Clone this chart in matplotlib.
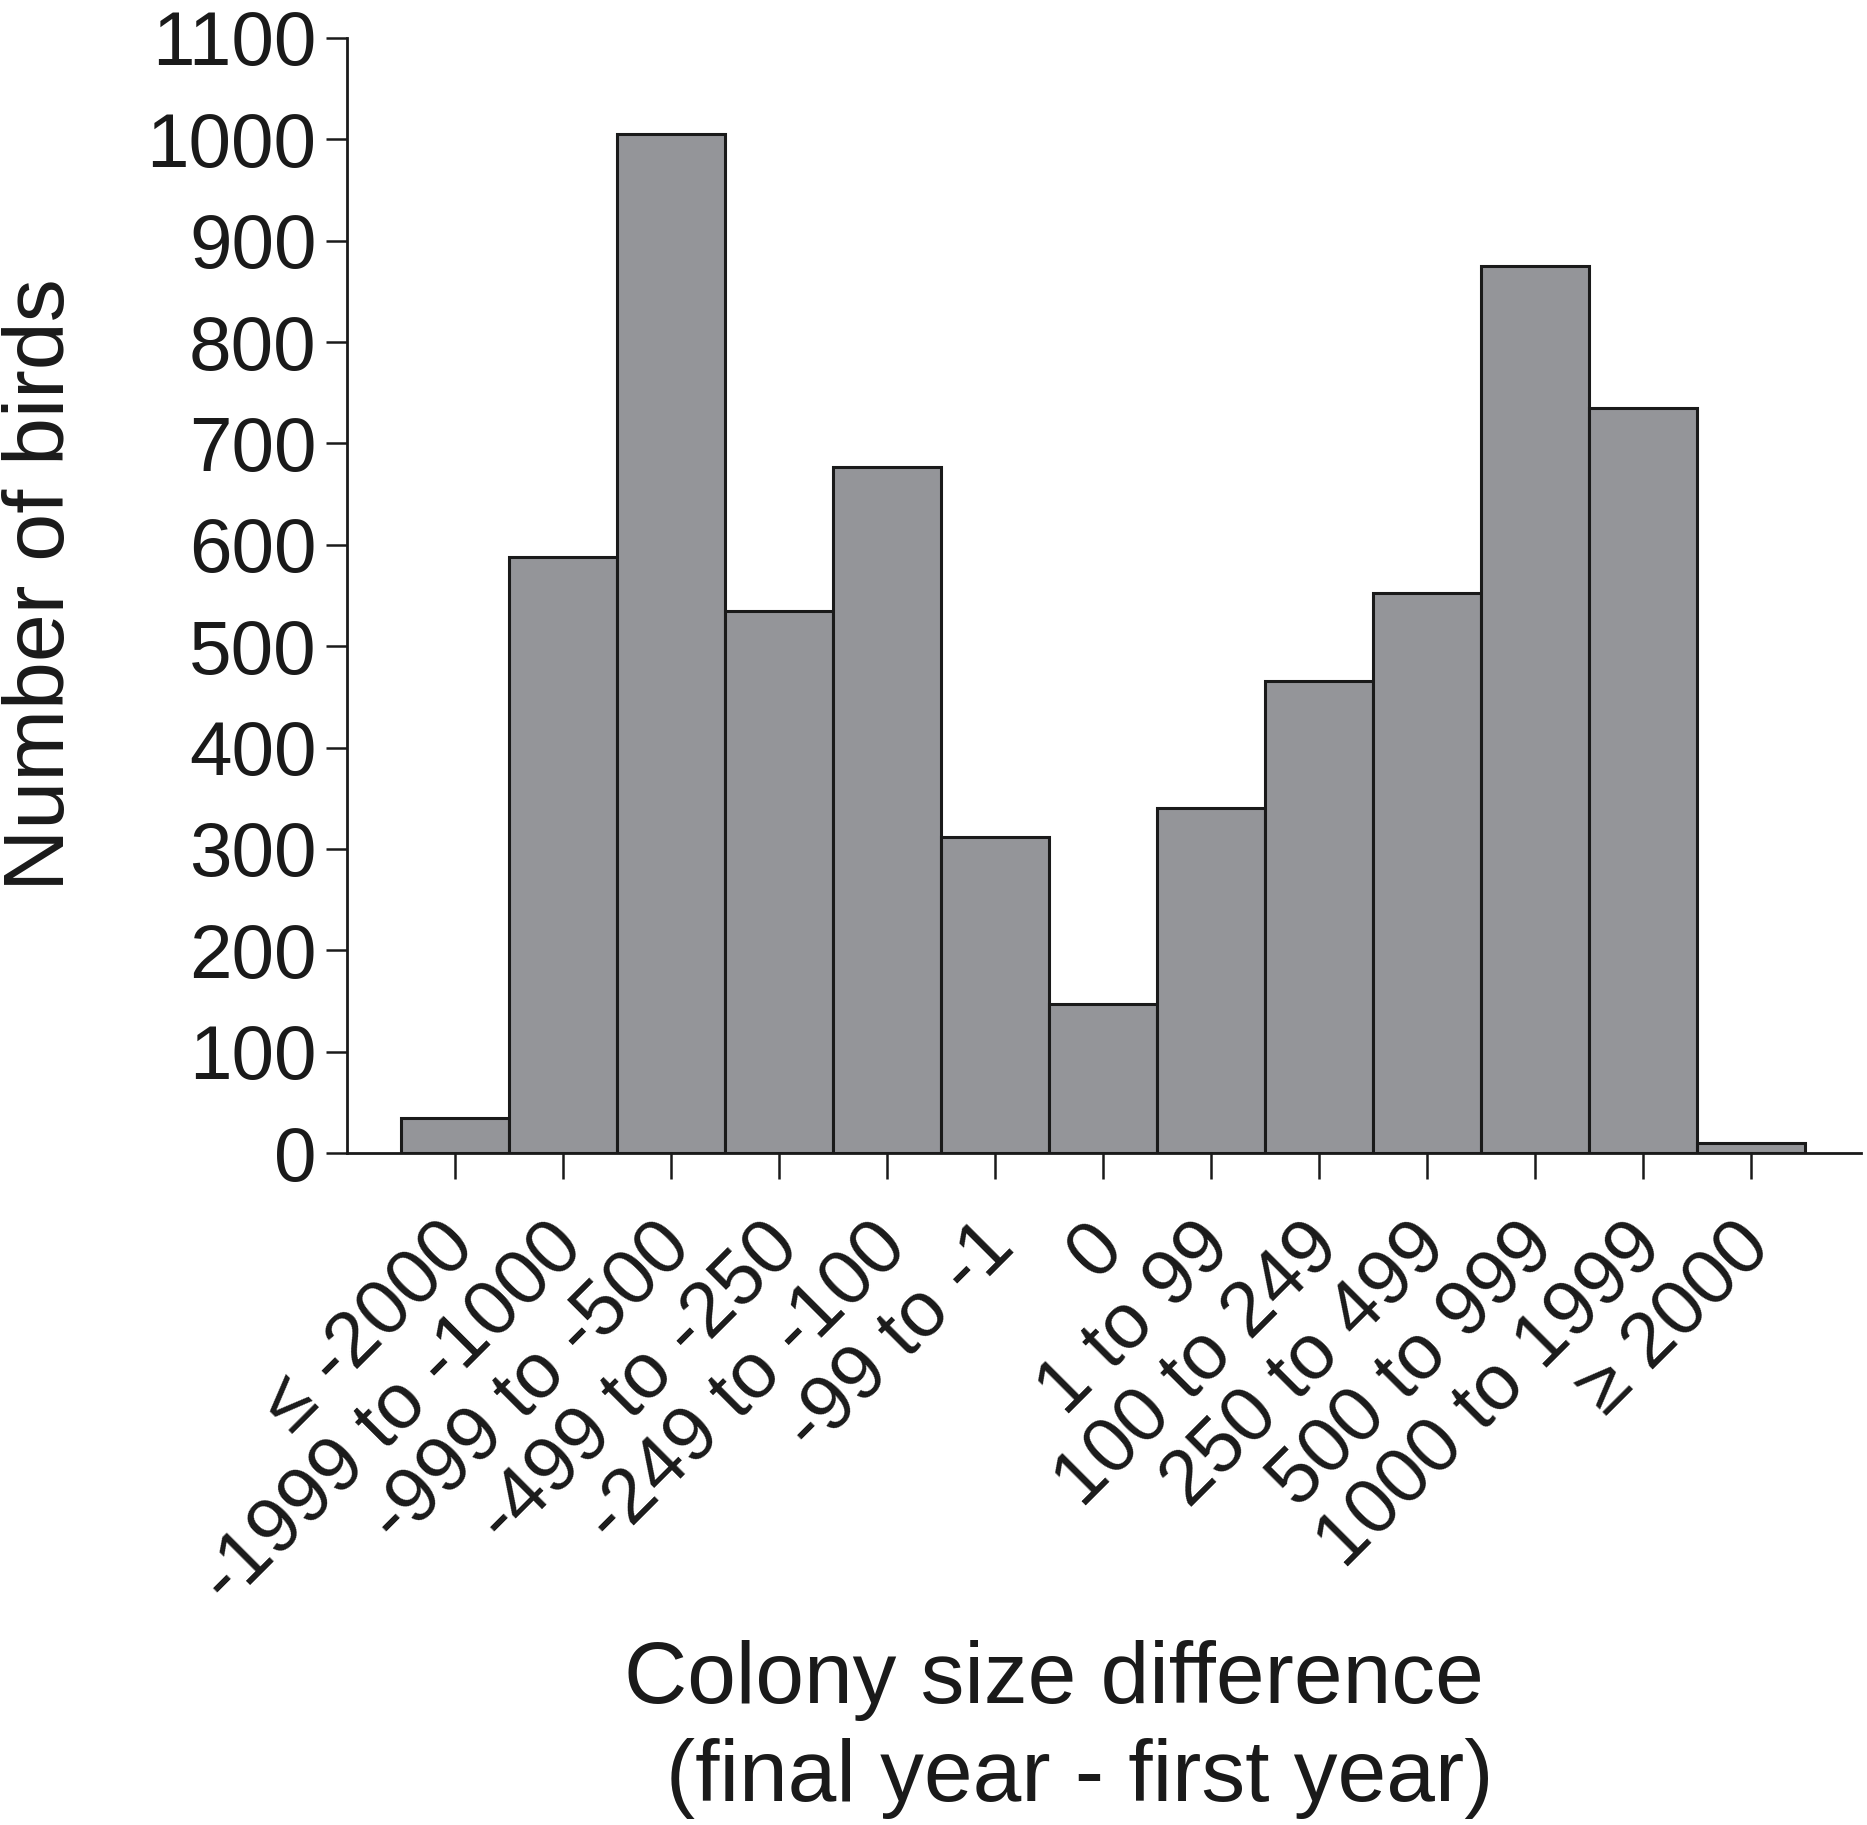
import numpy as np
import matplotlib
matplotlib.use('Agg')
import matplotlib.pyplot as plt
from matplotlib.transforms import ScaledTranslation

plt.rcParams['font.family'] = ['Liberation Sans', 'DejaVu Sans']

categories = ['≤ -2000', '-1999 to -1000', '-999 to -500', '-499 to -250',
              '-249 to -100', '-99 to -1', '0', '1 to 99', '100 to 249',
              '250 to 499', '500 to 999', '1000 to 1999', '≥ 2000']
birds = [35, 588, 1005, 535, 677, 312, 147, 340, 466, 552, 875, 735, 10]
y_ticks = list(range(0, 1101, 100))

fig = plt.figure(figsize=(18.67, 18.25), dpi=100)
ax = fig.add_axes([0.1859, 0.3682, 0.8109, 0.6110])

x = np.arange(len(categories))
ax.bar(x, birds, width=1.0, color='#949599', edgecolor='#1a1a1a', linewidth=2.2)

ax.set_xlim(-1.0, 13.02)
ax.set_ylim(0, 1100)
ax.set_yticks(y_ticks)
ax.set_yticklabels([str(v) for v in y_ticks], fontsize=55)
ax.set_xticks(x)
ax.set_xticklabels(categories, fontsize=56, rotation=45, ha='right',
                   va='center', rotation_mode='anchor')

ax.spines['top'].set_visible(False)
ax.spines['right'].set_visible(False)
for s in ['left', 'bottom']:
    ax.spines[s].set_linewidth(2.0)
    ax.spines[s].set_color('#1a1a1a')

ax.tick_params(axis='y', length=15, width=1.8, pad=7, colors='#1a1a1a')
ax.tick_params(axis='x', length=19, width=1.8, pad=40, colors='#1a1a1a')

offset = ScaledTranslation(8 / 100, 0, fig.dpi_scale_trans)
for lab in ax.get_xticklabels():
    lab.set_transform(lab.get_transform() + offset)

fig.text(42 / 1867, 1 - 585 / 1825, 'Number of birds', rotation=90,
         ha='center', va='center', fontsize=62, color='#1a1a1a')
fig.text(1054 / 1867, 1 - 1703 / 1825, 'Colony size difference',
         ha='center', va='baseline', fontsize=63, color='#1a1a1a')
fig.text(1080 / 1867, 1 - 1801 / 1825, '(final year - first year)',
         ha='center', va='baseline', fontsize=63, color='#1a1a1a')

fig.savefig('out.png', dpi=100)
